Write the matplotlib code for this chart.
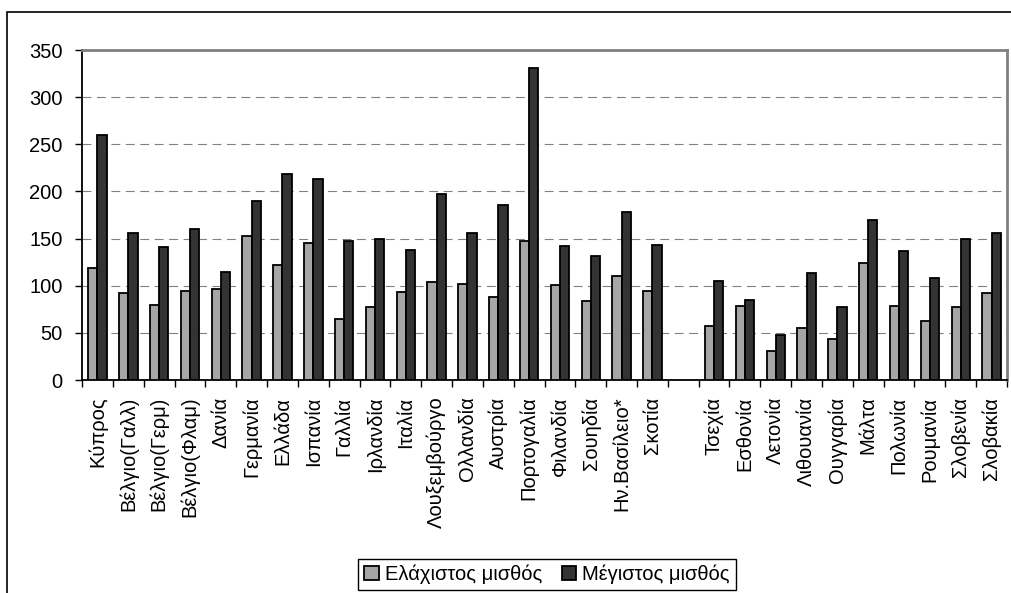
import numpy as np
import matplotlib
matplotlib.use("Agg")
import matplotlib.pyplot as plt
from matplotlib.patches import Rectangle, Patch

plt.rcParams['font.family'] = ['Liberation Sans', 'DejaVu Sans']

# Ομάδα 1 (παλιά κράτη μέλη)
countries_a = ["Κύπρος", "Βέλγιο(Γαλλ)", "Βέλγιο(Γερμ)", "Βέλγιο(Φλαμ)", "Δανία",
               "Γερμανία", "Ελλάδα", "Ισπανία", "Γαλλία", "Ιρλανδία", "Ιταλία",
               "Λουξεμβούργο", "Ολλανδία", "Αυστρία", "Πορτογαλία", "Φιλανδία",
               "Σουηδία", "Ην.Βασίλειο*", "Σκοτία"]
min_a = [119, 92, 80, 94, 96, 153, 122, 145, 65, 77, 93, 104, 102, 88, 147, 101, 84, 110, 94]
max_a = [260, 156, 141, 160, 115, 190, 219, 213, 147, 150, 138, 197, 156, 186, 331, 142, 131, 178, 143]

# Ομάδα 2 (νέα κράτη μέλη)
countries_b = ["Τσεχία", "Εσθονία", "Λετονία", "Λιθουανία", "Ουγγαρία",
               "Μάλτα", "Πολωνία", "Ρουμανία", "Σλοβενία", "Σλοβακία"]
min_b = [57, 79, 31, 55, 43, 124, 78, 63, 77, 92]
max_b = [105, 85, 48, 114, 77, 170, 137, 108, 150, 156]

yticks = [0, 50, 100, 150, 200, 250, 300, 350]

labels = countries_a + countries_b
mins = min_a + min_b
maxs = max_a + max_b
# ένα κενό ανάμεσα στις δύο ομάδες
pos = np.concatenate([np.arange(len(countries_a)),
                      np.arange(len(countries_b)) + len(countries_a) + 1])
nslots = len(countries_a) + 1 + len(countries_b)

grey = "#a6a6a6"
dark = "#333333"
fs = 14.5

fig = plt.figure(figsize=(10.11, 5.93), dpi=100)
ax = fig.add_axes([82/1011, 1-380/593, (1007-82)/1011, (380-50)/593])

w = 0.3
ax.bar(pos - w/2, mins, width=w, color=grey, edgecolor="black", linewidth=1.3, zorder=3)
ax.bar(pos + w/2, maxs, width=w, color=dark, edgecolor="black", linewidth=1.3, zorder=3)

ax.set_xlim(-0.5, nslots - 0.5)
ax.set_ylim(0, 350)
ax.set_yticks(yticks)
for v in yticks[1:-1]:
    ax.axhline(v, color="#808080", lw=0.8, dashes=(8, 5), zorder=1)

ax.set_xticks(pos)
ax.set_xticklabels(labels, rotation=90)
ax.set_xticks(np.arange(nslots + 1) - 0.5, minor=True)
ax.tick_params(axis="x", which="major", length=0, pad=12, labelsize=fs)
ax.tick_params(axis="x", which="minor", length=5, width=1, color="black")
ax.tick_params(axis="y", length=5, width=1, labelsize=fs, pad=9)

for s in ["top", "right"]:
    ax.spines[s].set_color("#808080")
    ax.spines[s].set_linewidth(2)
for s in ["left", "bottom"]:
    ax.spines[s].set_color("black")
    ax.spines[s].set_linewidth(1.3)

handles = [Patch(facecolor=grey, edgecolor="black", linewidth=1.3, label="Ελάχιστος μισθός"),
           Patch(facecolor=dark, edgecolor="black", linewidth=1.3, label="Μέγιστος μισθός")]
leg = fig.legend(handles=handles, loc="center", bbox_to_anchor=(547/1011, 1-574.5/593),
                 ncol=2, fontsize=fs, fancybox=False, shadow=False, framealpha=1,
                 handlelength=0.7, handleheight=0.7, handletextpad=0.3,
                 columnspacing=1.0, borderpad=0.3, borderaxespad=0)
leg.get_frame().set_edgecolor("black")
leg.get_frame().set_linewidth(1)

# εξωτερικό πλαίσιο
fig.patches.append(Rectangle((7/1011, -0.1), 1.2, 1.1 - 12/593,
                             transform=fig.transFigure, fill=False,
                             edgecolor="black", linewidth=1.2))

plt.savefig("out.png", dpi=100)
